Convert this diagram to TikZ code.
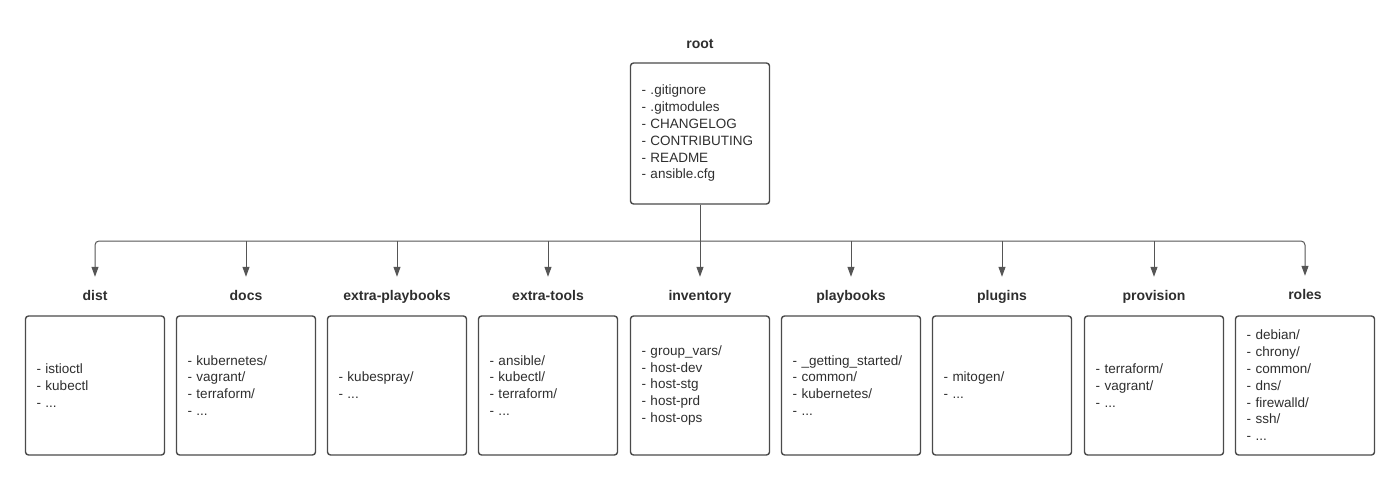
\documentclass[tikz,border=0pt]{standalone}
\usepackage{fontspec}
\setmainfont{Liberation Sans}
\usetikzlibrary{arrows.meta,calc}
\definecolor{edge}{HTML}{4A4A4A}
\definecolor{wire}{HTML}{555555}
\definecolor{ink}{HTML}{2E2E2E}
\begin{document}
\begin{tikzpicture}[x=1pt,y=-1pt,
  dirbox/.style={draw=edge,line width=1.4pt,rounded corners=3pt,
    minimum width=139pt,minimum height=139pt,text width=117pt,inner xsep=11pt,
    align=left,text=ink,font=\fontsize{13.5}{16.8}\selectfont},
  dirlabel/.style={anchor=base,inner sep=0pt,text height=10pt,text depth=3pt,
    text=ink,font=\fontsize{14}{16}\selectfont\bfseries},
  wireline/.style={draw=wire,line width=1pt},
  wirearrow/.style={wireline,-{Triangle[width=7pt,length=10pt]},shorten >=13pt}]
\useasboundingbox (0,0) rectangle (1400,481);
% root
\node[dirlabel] (rootl) at (700,48.5) {root};
\node[dirbox,minimum height=141pt] (root) at (700,133.5) {- .gitignore\\- .gitmodules\\- CHANGELOG\\- CONTRIBUTING\\- README\\- ansible.cfg};
\coordinate (bus) at (700,241);
% children
\foreach \n/\x/\lab/\by in {
  dist/95/dist/300,
  docs/246/docs/300,
  xpb/397/extra-playbooks/300,
  xtl/548/extra-tools/300,
  inv/700/inventory/300,
  pb/851/playbooks/300,
  plg/1002/plugins/300,
  prv/1154/provision/300,
  rol/1305/roles/299}{
  \node[dirlabel] (\n l) at (\x,\by) {\lab};
}
\node[dirbox] (dist) at (95,385.5) {- istioctl\\- kubectl\\- ...};
\node[dirbox] (docs) at (246,385.5) {- kubernetes/\\- vagrant/\\- terraform/\\- ...};
\node[dirbox] (xpb) at (397,385.5) {- kubespray/\\- ...};
\node[dirbox] (xtl) at (548,385.5) {- ansible/\\- kubectl/\\- terraform/\\- ...};
\node[dirbox] (inv) at (700,385.5) {- group\_vars/\\- host-dev\\- host-stg\\- host-prd\\- host-ops};
\node[dirbox] (pb) at (851,385.5) {- \_getting\_started/\\- common/\\- kubernetes/\\- ...};
\node[dirbox] (plg) at (1002,385.5) {- mitogen/\\- ...};
\node[dirbox] (prv) at (1154,385.5) {- terraform/\\- vagrant/\\- ...};
\node[dirbox] (rol) at (1305,385.5) {- debian/\\- chrony/\\- common/\\- dns/\\- firewalld/\\- ssh/\\- ...};
% connectors
\draw[wireline] (root.south) -- (bus);
\draw[wirearrow,rounded corners=4pt] (bus) -| (distl.north);
\draw[wirearrow,rounded corners=4pt] (bus) -| (roll.north);
\foreach \n in {docs,xpb,xtl,inv,pb,plg,prv}{
  \draw[wirearrow] (bus -| \n l.north) -- (\n l.north);
}
\end{tikzpicture}
\end{document}
